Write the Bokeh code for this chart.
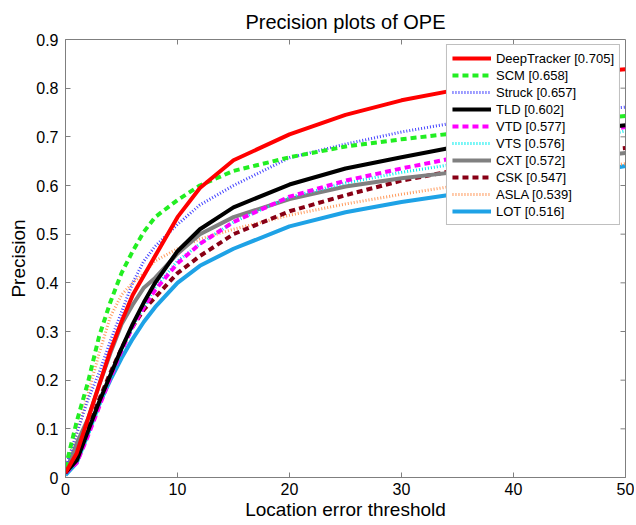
import math
from bokeh.plotting import figure
from bokeh.models import Range1d, Legend, LegendItem, FixedTicker
from bokeh.embed import file_html
from bokeh.resources import INLINE

# ---- data ----
thresholds = [0, 1, 2, 3, 4, 5, 6, 7, 8, 10, 12, 15, 20, 25, 30, 35, 40, 45, 50]

trackers = ["DeepTracker", "SCM", "Struck", "TLD", "VTD", "VTS", "CXT", "CSK", "ASLA", "LOT"]
scores = ["0.705", "0.658", "0.657", "0.602", "0.577", "0.576", "0.572", "0.547", "0.539", "0.516"]

deeptracker = [0.01, 0.05, 0.12, 0.19, 0.26, 0.32, 0.375, 0.415, 0.455, 0.535, 0.595, 0.652, 0.705, 0.745, 0.775, 0.797, 0.815, 0.83, 0.839]
scm = [0.02, 0.115, 0.195, 0.29, 0.36, 0.42, 0.465, 0.505, 0.535, 0.57, 0.60, 0.63, 0.658, 0.68, 0.695, 0.708, 0.72, 0.732, 0.743]
struck = [0.02, 0.09, 0.16, 0.215, 0.28, 0.34, 0.40, 0.445, 0.475, 0.52, 0.56, 0.60, 0.657, 0.685, 0.71, 0.73, 0.745, 0.753, 0.761]
tld = [0.01, 0.035, 0.095, 0.155, 0.21, 0.265, 0.315, 0.36, 0.40, 0.465, 0.51, 0.555, 0.602, 0.635, 0.658, 0.68, 0.698, 0.712, 0.724]
vtd = [0.01, 0.03, 0.085, 0.145, 0.205, 0.26, 0.31, 0.35, 0.385, 0.44, 0.48, 0.525, 0.577, 0.61, 0.635, 0.658, 0.68, 0.70, 0.72]
vts = [0.01, 0.03, 0.085, 0.145, 0.205, 0.26, 0.31, 0.35, 0.39, 0.445, 0.48, 0.525, 0.576, 0.605, 0.627, 0.645, 0.665, 0.69, 0.712]
cxt = [0.01, 0.07, 0.12, 0.19, 0.255, 0.315, 0.355, 0.39, 0.41, 0.46, 0.50, 0.535, 0.572, 0.598, 0.615, 0.628, 0.643, 0.655, 0.667]
csk = [0.01, 0.04, 0.10, 0.16, 0.215, 0.265, 0.31, 0.345, 0.37, 0.42, 0.455, 0.50, 0.547, 0.58, 0.61, 0.632, 0.65, 0.665, 0.677]
asla = [0.02, 0.09, 0.17, 0.255, 0.33, 0.375, 0.40, 0.42, 0.445, 0.47, 0.49, 0.51, 0.539, 0.562, 0.582, 0.60, 0.615, 0.63, 0.645]
lot = [0.005, 0.03, 0.09, 0.15, 0.20, 0.245, 0.285, 0.32, 0.35, 0.40, 0.435, 0.47, 0.516, 0.545, 0.566, 0.583, 0.60, 0.62, 0.64]

series = [deeptracker, scm, struck, tld, vtd, vts, cxt, csk, asla, lot]

x_ticks = [0, 10, 20, 30, 40, 50]
y_ticks = [0, 0.1, 0.2, 0.3, 0.4, 0.5, 0.6, 0.7, 0.8, 0.9]

# ---- styles ----
colors = ["#ff0000", "#22ee22", "#4444ff", "#000000", "#ff00ff", "#00eeee",
          "#808080", "#880015", "#ff9a5c", "#1ea2e6"]
dashes = ["solid", "6 4", "1 2", "solid", "6 4", "1 2", "solid", "6 4", "1 2", "solid"]
widths = [4, 4, 3, 4, 4, 3, 4, 4, 3, 4]

FONT = "Liberation Sans"
AX = "#7f7f7f"

x_lo, x_hi = x_ticks[0], x_ticks[-1]
y_lo, y_hi = y_ticks[0], y_ticks[-1]

p = figure(width=634, height=522, output_backend="svg", toolbar_location=None,
           x_range=Range1d(x_lo, x_hi), y_range=Range1d(y_lo, y_hi),
           min_border_left=65, min_border_right=9, min_border_top=39, min_border_bottom=40,
           title="Precision plots of OPE")

p.title.align = "center"
p.title.text_font = FONT
p.title.text_font_size = "20px"
p.title.text_font_style = "normal"
p.title.text_color = "#000000"
p.title.standoff = 14

p.grid.visible = False
p.background_fill_color = "white"
p.border_fill_color = "white"
p.outline_line_color = AX
p.outline_line_width = 1

for ax in (p.xaxis[0], p.yaxis[0]):
    ax.axis_line_color = AX
    ax.major_tick_line_color = AX
    ax.major_tick_in = 5
    ax.major_tick_out = 0
    ax.minor_tick_line_color = None
    ax.major_label_text_font = FONT
    ax.major_label_text_font_size = "16px"
    ax.major_label_text_color = "#000000"
    ax.major_label_text_line_height = 1.0
    ax.axis_label_text_font = FONT
    ax.axis_label_text_font_size = "19px"
    ax.axis_label_text_font_style = "normal"
    ax.axis_label_text_color = "#000000"
    ax.axis_label_text_line_height = 1.0

p.xaxis[0].ticker = FixedTicker(ticks=x_ticks)
p.yaxis[0].ticker = FixedTicker(ticks=y_ticks)
p.xaxis[0].axis_label = "Location error threshold"
p.yaxis[0].axis_label = "Precision"
p.xaxis[0].major_label_standoff = 5
p.xaxis[0].axis_label_standoff = 1
p.yaxis[0].major_label_standoff = 7
p.yaxis[0].axis_label_standoff = 4

renderers = []
for vals, c, d, w in zip(series, colors, dashes, widths):
    r = p.line(thresholds, vals, line_color=c, line_dash=d, line_width=w)
    renderers.append(r)

# first tracker drawn on top
p.renderers = list(reversed(p.renderers))

# mirrored inward ticks on the top and right edges of the box (clipped to the frame)
inner_x = x_ticks[1:-1]
inner_y = y_ticks[1:-1]
p.scatter(inner_x, [y_hi] * len(inner_x), marker="dash", angle=math.pi / 2, size=10,
          line_color=AX, line_width=1)
p.scatter([x_hi] * len(inner_y), inner_y, marker="dash", size=10,
          line_color=AX, line_width=1)

items = [LegendItem(label=f"{n} [{s}]", renderers=[r]) for n, s, r in zip(trackers, scores, renderers)]
legend = Legend(items=items, location="top_right")
legend.label_text_font = FONT
legend.label_text_font_size = "13px"
legend.label_text_color = "#000000"
legend.glyph_width = 39
legend.glyph_height = 16
legend.label_height = 16
legend.spacing = 1
legend.padding = 5
legend.label_standoff = 5
legend.margin = 5
legend.border_line_color = AX
legend.border_line_width = 1
legend.background_fill_color = "white"
legend.background_fill_alpha = 1.0
p.add_layout(legend, "center")

open("out.html", "w").write(file_html(p, INLINE))
